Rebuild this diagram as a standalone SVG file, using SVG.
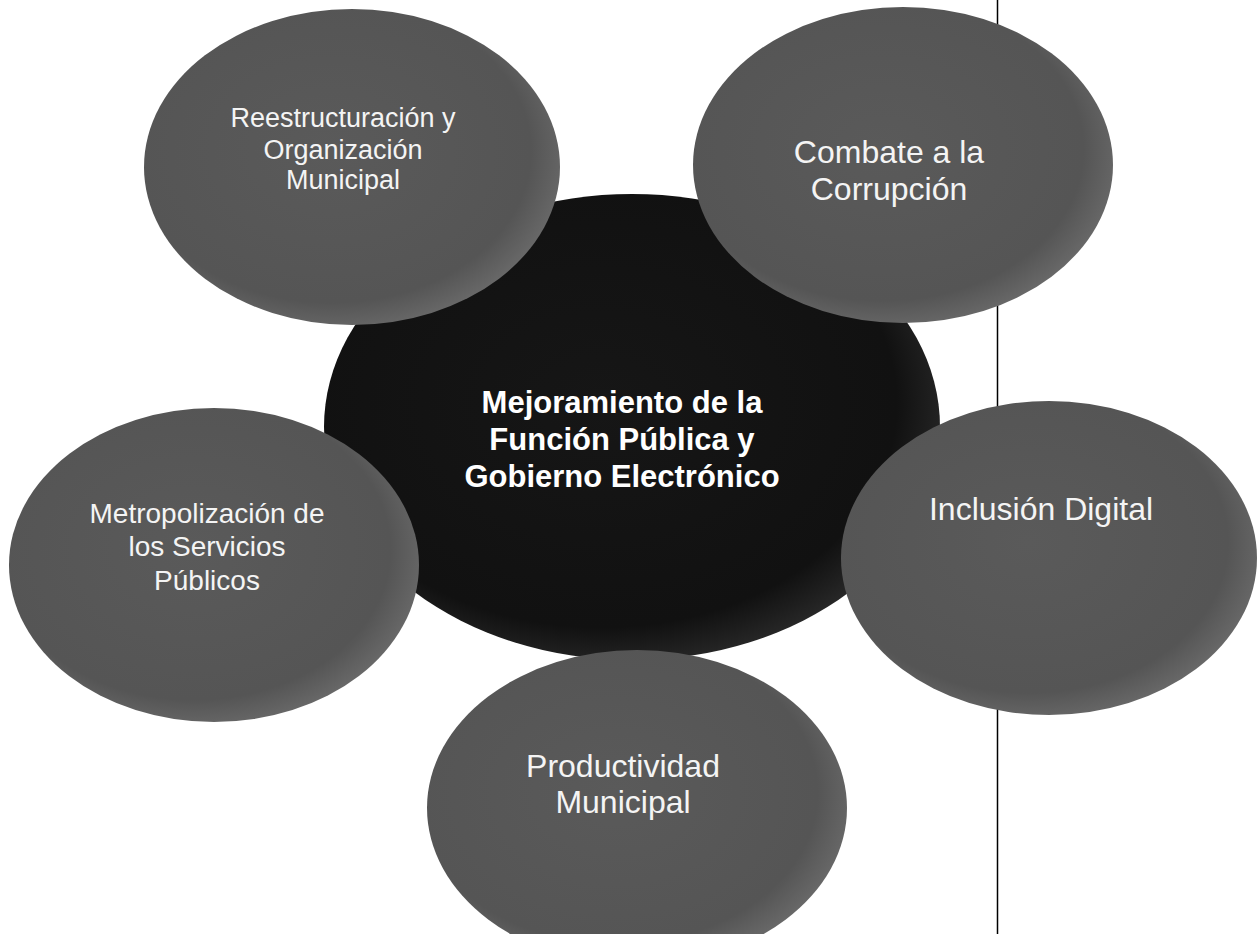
<svg xmlns="http://www.w3.org/2000/svg" width="1257" height="934" viewBox="0 0 1257 934">
  <style>
    .outer { fill: url(#gOuter); }
    .center { fill: url(#gCenter); }
    .lbl { font-family: "Liberation Sans", Arial, sans-serif; fill: #f4f4f4; text-anchor: middle; }
    .main { font-family: "Liberation Sans", Arial, sans-serif; fill: #ffffff; text-anchor: middle; font-weight: bold; font-size: 31px; }
  </style>
  <defs>
    <radialGradient id="gOuter" cx="0.45" cy="0.45" r="0.6">
      <stop offset="0" stop-color="#5a5a5a"/>
      <stop offset="0.8" stop-color="#555555"/>
      <stop offset="1" stop-color="#6e6e6e"/>
    </radialGradient>
    <radialGradient id="gCenter" cx="0.45" cy="0.45" r="0.6">
      <stop offset="0" stop-color="#161616"/>
      <stop offset="0.8" stop-color="#111111"/>
      <stop offset="1" stop-color="#2e2e2e"/>
    </radialGradient>
  </defs>
  <rect x="0" y="0" width="1257" height="934" fill="#ffffff"/>
  <line x1="997.5" y1="0" x2="997.5" y2="934" stroke="#000000" stroke-width="1.5"/>
  <g id="connectors"></g>
  <g id="node-center">
    <ellipse class="center" cx="632" cy="427" rx="308" ry="233"/>
    <text class="main" x="622" y="413">Mejoramiento de la</text>
    <text class="main" x="622" y="450">Función Pública y</text>
    <text class="main" x="622" y="487">Gobierno Electrónico</text>
  </g>
  <g id="node-reestructuracion">
    <ellipse class="outer" cx="352" cy="167" rx="208" ry="158"/>
    <text class="lbl" font-size="27" x="343" y="127">Reestructuración y</text>
    <text class="lbl" font-size="27" x="343" y="159">Organización</text>
    <text class="lbl" font-size="27" x="343" y="189">Municipal</text>
  </g>
  <g id="node-combate">
    <ellipse class="outer" cx="903" cy="165" rx="210" ry="158"/>
    <text class="lbl" font-size="32" x="889" y="163">Combate a la</text>
    <text class="lbl" font-size="32" x="889" y="200">Corrupción</text>
  </g>
  <g id="node-metropolizacion">
    <ellipse class="outer" cx="214" cy="565" rx="205" ry="157"/>
    <text class="lbl" font-size="28" x="207" y="523">Metropolización de</text>
    <text class="lbl" font-size="28" x="207" y="556">los Servicios</text>
    <text class="lbl" font-size="28" x="207" y="590">Públicos</text>
  </g>
  <g id="node-inclusion">
    <ellipse class="outer" cx="1049" cy="558" rx="208" ry="157"/>
    <text class="lbl" font-size="32" x="1041" y="520">Inclusión Digital</text>
  </g>
  <g id="node-productividad">
    <ellipse class="outer" cx="637" cy="808" rx="210" ry="158"/>
    <text class="lbl" font-size="32" x="623" y="777">Productividad</text>
    <text class="lbl" font-size="32" x="623" y="813">Municipal</text>
  </g>
</svg>
